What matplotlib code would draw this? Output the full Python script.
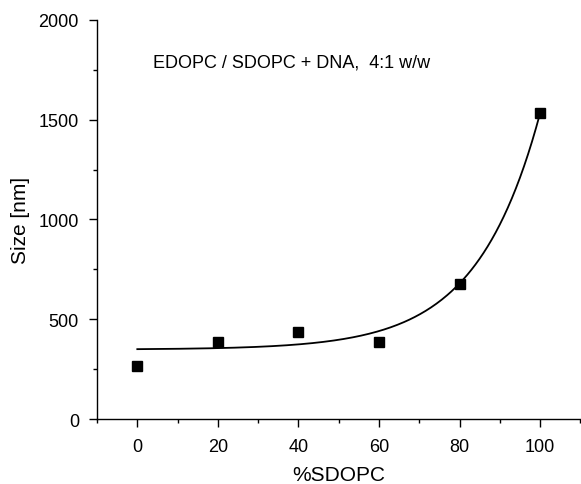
import numpy as np
import matplotlib.pyplot as plt
from matplotlib.ticker import MultipleLocator

# measured points
sdopc = [0, 20, 40, 60, 80, 100]
size_nm = [266, 386, 436, 386, 677, 1534]

# exponential growth fit y = y0 + A*exp(x/t)
fit_y0 = 348
fit_a = 2.03
fit_t = 15.7

plt.rcParams['font.family'] = ['Liberation Sans', 'DejaVu Sans']

fig = plt.figure(figsize=(5.81, 4.85), dpi=100)
ax = fig.add_axes([0.167, 0.134, 0.832, 0.823])

xs = np.linspace(0, 100, 300)
ax.plot(xs, fit_y0 + fit_a * np.exp(xs / fit_t), color='black', lw=1.3)
ax.plot(sdopc, size_nm, 's', color='black', markersize=7, ls='none')

ax.set_xlim(-10, 110)
ax.set_ylim(0, 2000)
ax.xaxis.set_major_locator(MultipleLocator(20))
ax.xaxis.set_minor_locator(MultipleLocator(10))
ax.yaxis.set_major_locator(MultipleLocator(500))
ax.yaxis.set_minor_locator(MultipleLocator(250))

ax.spines['top'].set_visible(False)
ax.spines['right'].set_visible(False)
for s in ('left', 'bottom'):
    ax.spines[s].set_linewidth(1.0)
ax.tick_params(which='major', direction='out', length=6, width=1, labelsize=13)
ax.tick_params(axis='x', which='major', pad=8)
ax.tick_params(axis='y', which='major', pad=7)
ax.tick_params(which='minor', direction='out', length=3, width=1)

ax.set_xlabel('%SDOPC', fontsize=15, labelpad=7)
ax.set_ylabel('Size [nm]', fontsize=15, labelpad=6)
ax.text(3.8, 1789, 'EDOPC / SDOPC + DNA,  4:1 w/w', fontsize=13, va='center')

fig.savefig('out.png', dpi=100)
